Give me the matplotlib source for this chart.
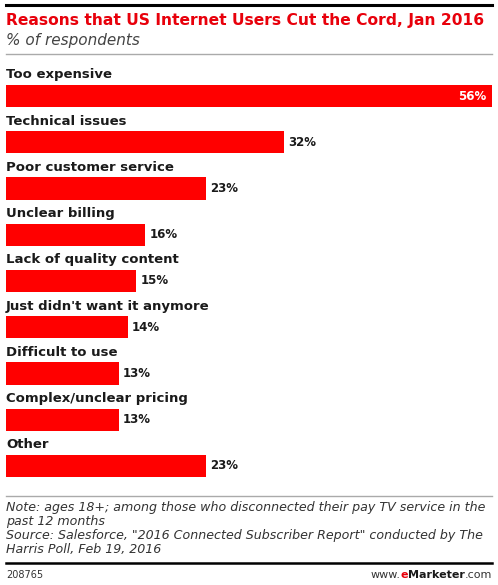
import matplotlib.pyplot as plt

categories = ["Too expensive", "Technical issues", "Poor customer service",
              "Unclear billing", "Lack of quality content",
              "Just didn't want it anymore", "Difficult to use",
              "Complex/unclear pricing", "Other"]
values = [56, 32, 23, 16, 15, 14, 13, 13, 23]

W, H = 498, 585
fig = plt.figure(figsize=(W / 100, H / 100), dpi=100)
plt.rcParams['font.family'] = ['DejaVu Sans']

def fx(px):
    return px / W

def fy(py):
    return 1 - py / H

# bar area: x 6..492 px, y 85..477 px
pitch = 46
bar_h = 22 / pitch
ax = fig.add_axes([fx(6), fy(477), fx(492) - fx(6), (477 - 85) / H])
ax.barh(range(len(values)), values, height=bar_h, color="#ff0000")
ax.set_xlim(0, 56)
ax.set_ylim(len(values) - 1 + bar_h / 2, -bar_h / 2)
ax.axis("off")

for i, (c, v) in enumerate(zip(categories, values)):
    ax.text(0, i - 21 / pitch, c, ha="left", va="center", fontsize=9.5,
            fontweight="bold", color="#1a1a1a", clip_on=False)
    if v == max(values):
        ax.text(v - 0.6, i, f"{v}%", ha="right", va="center", fontsize=8.5,
                fontweight="bold", color="white")
    else:
        ax.text(v + 0.5, i, f"{v}%", ha="left", va="center", fontsize=8.5,
                fontweight="bold", color="#1a1a1a")

# header
fig.add_artist(plt.Line2D([fx(6), fx(492)], [fy(5), fy(5)], color="black", lw=2.2))
fig.text(fx(6), fy(20), "Reasons that US Internet Users Cut the Cord, Jan 2016",
         ha="left", va="center", fontsize=11.2, fontweight="bold", color="#e8000b")
fig.text(fx(6), fy(41), "% of respondents", ha="left", va="center",
         fontsize=11, style="italic", color="#444444")
fig.add_artist(plt.Line2D([fx(6), fx(492)], [fy(54), fy(54)], color="#aaaaaa", lw=1))

# footer
fig.add_artist(plt.Line2D([fx(6), fx(492)], [fy(496), fy(496)], color="#aaaaaa", lw=1))
notes = ["Note: ages 18+; among those who disconnected their pay TV service in the",
         "past 12 months",
         "Source: Salesforce, \"2016 Connected Subscriber Report\" conducted by The",
         "Harris Poll, Feb 19, 2016"]
for k, line in enumerate(notes):
    fig.text(fx(6), fy(507 + 14 * k), line, ha="left", va="center",
             fontsize=9.1, style="italic", color="#333333")
fig.add_artist(plt.Line2D([fx(6), fx(492)], [fy(563), fy(563)], color="black", lw=1.8))
fig.text(fx(6), fy(575), "208765", ha="left", va="center", fontsize=7, color="#333333")

# www.eMarketer.com, pieces laid right to left
r = fig.canvas.get_renderer()
parts = [(".com", "normal", "#333333"), ("Marketer", "bold", "#1a1a1a"),
         ("e", "bold", "#e8000b"), ("www.", "normal", "#333333")]
xr = 492
for s, w, col in parts:
    t = fig.text(fx(xr), fy(575), s, ha="right", va="center", fontsize=8,
                 fontweight=w, color=col)
    xr -= t.get_window_extent(r).width

fig.savefig("out.png", dpi=100)
